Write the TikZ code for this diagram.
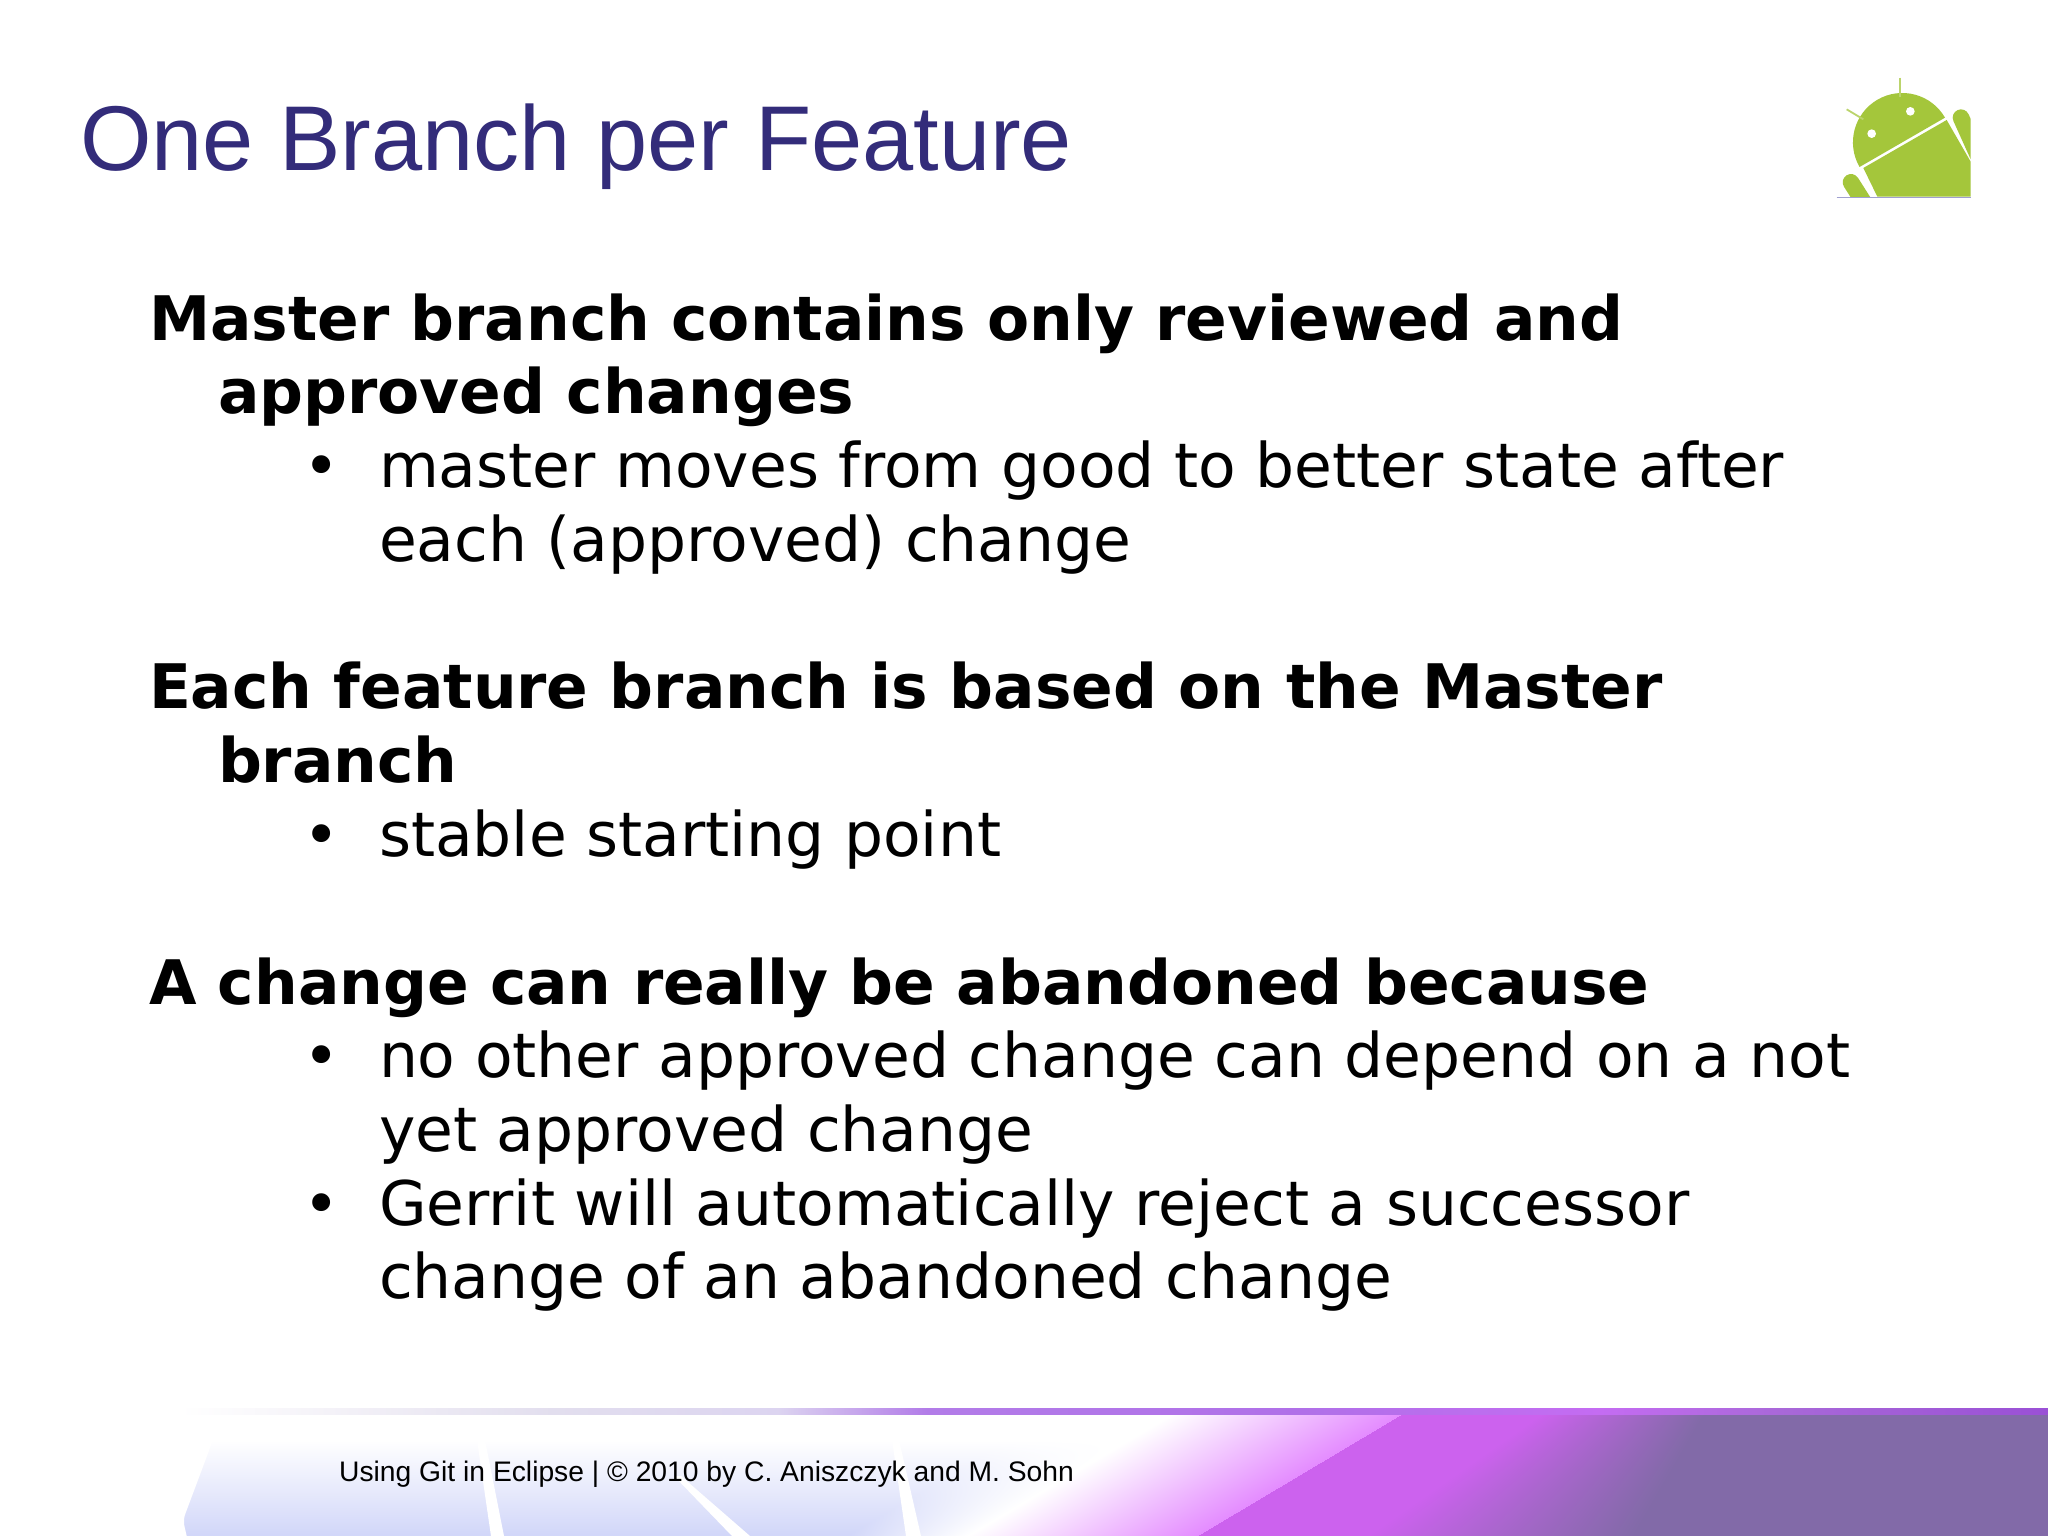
\documentclass[tikz,border=0pt]{standalone}
\usepackage{fontspec}
\setmainfont{DejaVu Sans}
\newfontfamily\libsans{Liberation Sans}
\definecolor{titlecol}{HTML}{332C7A}
\definecolor{droid}{HTML}{A4C63B}
\definecolor{droidline}{HTML}{A0A0D0}
\definecolor{barA}{HTML}{F4F2F8}
\definecolor{barB}{HTML}{E2DEEE}
\definecolor{barC}{HTML}{DCD4F0}
\definecolor{barD}{HTML}{B27CE8}
\definecolor{barE}{HTML}{B070E8}
\definecolor{barF}{HTML}{C46CF2}
\definecolor{barG}{HTML}{A868D8}
\definecolor{barH}{HTML}{9A50D6}
\pgfdeclarehorizontalshading{barshade}{100bp}{
 color(0bp)=(white);color(25bp)=(white);
 color(29bp)=(barA);color(35bp)=(barB);
 color(41bp)=(barC);color(45bp)=(barD);color(55bp)=(barE);
 color(63bp)=(barF);color(68bp)=(barG);color(75bp)=(barH);color(100bp)=(barH)}
\def\clampit{dup 0 lt {pop 0} if dup 1 gt {pop 1} if }
\def\chan#1#2{1 index #1 mul 1 add 1 index 1 exch sub mul 1 index #2 mul add 3 1 roll }
\pgfdeclarefunctionalshading{footerbg}{\pgfpoint{0pt}{0pt}}{\pgfpoint{2048pt}{128pt}}{}{
 1.00375 mul exch 1.00375 mul exch
 2 copy 1.68 mul sub 1197 sub
 dup 0 lt {
   dup 230 add 230 div \clampit
   exch 350 add 120 div \clampit
   3 -1 roll 96 div 1 exch sub \clampit
   exch 1 exch sub mul exch
   \chan{-0.18}{0.894}\chan{-0.16}{0.549}\chan{-0.025}{1.0}
   pop pop 4 -1 roll pop
 }{
   pop dup 3 1 roll 1.43 mul sub 1367 sub
   exch 0.85 mul 266 exch sub div \clampit
   dup -0.29 mul 0.8 add exch dup 0.032 mul 0.384 add exch -0.274 mul 0.933 add
 } ifelse
}
\tikzset{
 slidetext/.style={anchor=base west,inner sep=0pt,outer sep=0pt,font=\fontsize{61.5}{74}\selectfont},
 headline/.style={slidetext,font=\fontsize{61.4}{74}\selectfont\bfseries},
}
\begin{document}
\begin{tikzpicture}[x=1pt,y=-1pt]
\useasboundingbox (0,0) rectangle (2048,1536);
\fill[white] (0,0) rectangle (2048,1536);
% footer background
\node[inner sep=0pt,outer sep=0pt,anchor=south west] (footbg) at (0,1536) {\pgfuseshading{footerbg}};
% white area left of the panel
\fill[white,rounded corners=6pt] (-10,1400) -- (228,1400) -- (183,1520) -- (190,1550) -- (-10,1550) -- cycle;
% white stripes in the panel
\fill[white] (477,1440) -- (485,1440) -- (504,1536) -- (491,1536) -- cycle;
\fill[white] (674,1476) -- (681,1476) -- (750,1536) -- (732,1536) -- cycle;
\fill[white] (892,1440) -- (899,1440) -- (921,1536) -- (906,1536) -- cycle;
% bar
\shade[shading=barshade] (180,1408) rectangle (2048,1414);
% android logo
\begin{scope}[shift={(1800,50)},x=0.3333pt,y=-0.3333pt]
 \fill[droid] (435,203) arc[start angle=-30,end angle=-210,radius=148] -- cycle;
 \draw[droid!75,line width=1.8pt] (300,83) -- (300,140);
 \draw[droid!75,line width=1.8pt] (140,178) -- (190,208);
 \fill[white] (215,251) circle[radius=13];
 \fill[white] (331,184) circle[radius=13];
 \fill[droid] (190,354) -- (440,210) -- (512,335) -- (512,440) -- (232,440) -- cycle;
 \begin{scope}
  \clip (100,60) rectangle (512,440);
  \draw[droid,line width=16.6pt,line cap=round] (483,203) -- (565,385);
  \draw[droid,line width=16.6pt,line cap=round] (153,397) -- (233,523);
 \end{scope}
 \draw[droidline,line width=1pt] (110,442) -- (512,442);
\end{scope}
% title
\node[anchor=base west,inner sep=0pt,font=\libsans\fontsize{92}{104}\selectfont,text=titlecol] (title) at (80,171) {One Branch per Feature};
% body
\node[headline] (h1) at (149,340) {Master branch contains only reviewed and};
\node[headline] (h1b) at (218,413) {approved changes};
\node[slidetext] (b1) at (303,487) {•};
\node[slidetext] (t1) at (379,487) {master moves from good to better state after};
\node[slidetext] (t1b) at (379,561) {each (approved) change};
\node[headline] (h2) at (149,708) {Each feature branch is based on the Master};
\node[headline] (h2b) at (218,782) {branch};
\node[slidetext] (b2) at (303,856) {•};
\node[slidetext] (t2) at (379,856) {stable starting point};
\node[headline] (h3) at (149,1004) {A change can really be abandoned because};
\node[slidetext] (b3) at (303,1077) {•};
\node[slidetext] (t3) at (379,1077) {no other approved change can depend on a not};
\node[slidetext] (t3b) at (379,1151) {yet approved change};
\node[slidetext] (b4) at (303,1225) {•};
\node[slidetext] (t4) at (379,1225) {Gerrit will automatically reject a successor};
\node[slidetext] (t4b) at (379,1298) {change of an abandoned change};
% footer text
\node[anchor=base west,inner sep=0pt,font=\libsans\fontsize{28.25}{32}\selectfont,text=black] (foot) at (339,1481) {Using Git in Eclipse | © 2010 by C. Aniszczyk and M. Sohn};
\end{tikzpicture}
\end{document}
